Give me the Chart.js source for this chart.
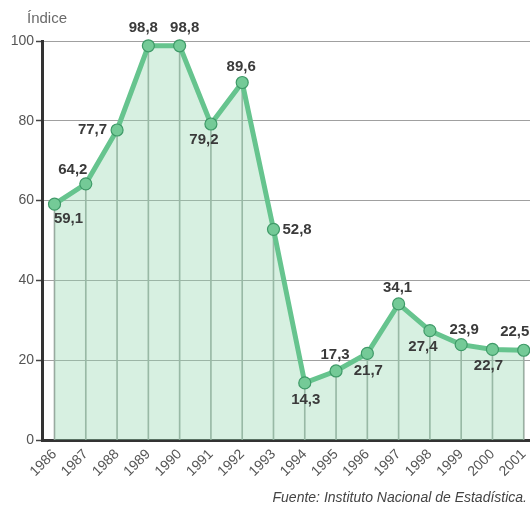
<!DOCTYPE html>
<html>
<head>
<meta charset="utf-8">
<script src="https://cdn.jsdelivr.net/npm/chart.js@4"></script>
<style>
html,body{margin:0;padding:0;background:#fff;}
#wrap{width:530px;height:508px;position:relative;}
</style>
</head>
<body>
<div id="wrap"><canvas id="c" width="530" height="508"></canvas></div>
<script>
// ---- data ----
const years = [1986,1987,1988,1989,1990,1991,1992,1993,1994,1995,1996,1997,1998,1999,2000,2001];
const indexValues = [59.1,64.2,77.7,98.8,98.8,79.2,89.6,52.8,14.3,17.3,21.7,34.1,27.4,23.9,22.7,22.5];
const yTicks = [0,20,40,60,80,100];
const yTitle = 'Índice';
const sourceText = 'Fuente: Instituto Nacional de Estadística.';
// label placement codes (a=above, b=below, l=left, r=right)
const labelPlace = ['br','al','l','al2','ar2','bl','a','r','b','a','b','a','bl','ar','b2','a2'];

const points = years.map((y, i) => ({x: y, y: indexValues[i]}));
const fmt = v => v.toFixed(1).replace('.', ',');

const placeMap = {
  br:  {dx: 14, dy: 15, align: 'center'},
  al:  {dx: -13, dy: -14, align: 'center'},
  l:   {dx: -10, dy: 0, align: 'right'},
  al2: {dx: -5, dy: -18, align: 'center'},
  ar2: {dx: 5, dy: -18, align: 'center'},
  bl:  {dx: -7, dy: 16, align: 'center'},
  a:   {dx: -1, dy: -16, align: 'center'},
  r:   {dx: 9, dy: 1, align: 'left'},
  b:   {dx: 1, dy: 17, align: 'center'},
  ar:  {dx: 3, dy: -15, align: 'center'},
  b2:  {dx: -4, dy: 16, align: 'center'},
  a2:  {dx: -9, dy: -18, align: 'center'}
};

const labelsPlugin = {
  id: 'valueLabels',
  afterDatasetsDraw(chart) {
    const ctx = chart.ctx;
    const meta = chart.getDatasetMeta(0);
    ctx.save();
    ctx.font = 'bold 15px "Liberation Sans", Arial, sans-serif';
    ctx.fillStyle = '#3a3a3a';
    ctx.textBaseline = 'middle';
    meta.data.forEach((pt, i) => {
      const p = placeMap[labelPlace[i]];
      ctx.textAlign = p.align;
      ctx.fillText(fmt(indexValues[i]), pt.x + p.dx, pt.y + p.dy);
    });
    ctx.restore();
  },
  afterDraw(chart) {
    const ctx = chart.ctx;
    const a = chart.chartArea;
    ctx.save();
    ctx.font = '15px "Liberation Sans", Arial, sans-serif';
    ctx.fillStyle = '#6a6a6a';
    ctx.textAlign = 'left';
    ctx.textBaseline = 'middle';
    ctx.fillText(yTitle, a.left - 15, a.top - 22);
    ctx.font = 'italic 14px "Liberation Sans", Arial, sans-serif';
    ctx.fillStyle = '#444';
    ctx.textAlign = 'right';
    ctx.fillText(sourceText, chart.width - 3, chart.height - 10);
    ctx.restore();
  }
};

new Chart(document.getElementById('c'), {
  data: {
    datasets: [
      {
        type: 'line',
        data: points,
        order: 1,
        clip: false,
        borderColor: '#66c48e',
        borderWidth: 5,
        tension: 0,
        fill: 'origin',
        backgroundColor: 'rgba(150,215,175,0.38)',
        pointRadius: 6,
        pointBackgroundColor: '#74ca97',
        pointBorderColor: '#3f9a68',
        pointBorderWidth: 1.2
      },
      {
        type: 'bar',
        data: points,
        order: 2,
        backgroundColor: '#9aa79f',
        barThickness: 1
      }
    ]
  },
  options: {
    responsive: false,
    animation: false,
    layout: {autoPadding: false, padding: {top: 41, left: 0, right: 0, bottom: 0}},
    plugins: {legend: {display: false}, tooltip: {enabled: false}},
    scales: {
      x: {
        type: 'linear',
        offset: false,
        min: 1985.6,
        max: 2001.2,
        afterBuildTicks: axis => { axis.ticks = years.map(v => ({value: v})); },
        afterFit: s => { s.height = 68; s.paddingRight = 0; },
        grid: {display: false, offset: false},
        border: {display: true, color: '#333', width: 3},
        ticks: {
          minRotation: 45, maxRotation: 45,
          autoSkip: false,
          padding: -2,
          color: '#555',
          font: {family: '"Liberation Sans", Arial, sans-serif', size: 14},
          callback: v => String(v)
        }
      },
      y: {
        min: 0, max: 100,
        afterBuildTicks: axis => { axis.ticks = yTicks.map(v => ({value: v})); },
        afterFit: s => { s.width = 42; },
        grid: {color: '#a0a0a0', lineWidth: 1, tickColor: '#444', tickLength: 6, tickWidth: 1.5, tickBorderDash: [], borderDash: [1, 2]},
        border: {display: true, color: '#333', width: 3, dash: []},
        ticks: {
          padding: 2,
          color: '#555',
          font: {family: '"Liberation Sans", Arial, sans-serif', size: 14}
        }
      }
    }
  },
  plugins: [labelsPlugin]
});
</script>
</body>
</html>
